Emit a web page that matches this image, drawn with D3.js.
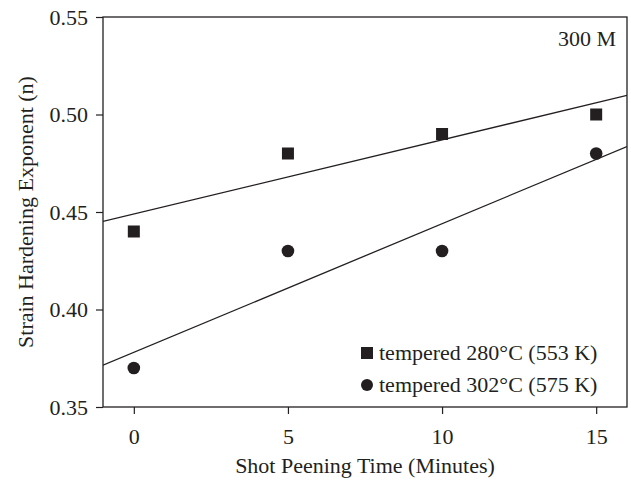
<!DOCTYPE html>
<html>
<head>
<meta charset="utf-8">
<script src="https://cdn.jsdelivr.net/npm/d3@7"></script>
<style>
  html, body { margin: 0; padding: 0; background: #fff; }
  svg { display: block; }
  svg text { font-family: "Liberation Serif", "Times New Roman", Times, serif !important; }
</style>
</head>
<body>
<svg id="chart" width="631" height="482"></svg>
<script>
// Shot peening time (minutes)
const times = [0, 5, 10, 15];
// Strain hardening exponent n for each temper condition
const tempered280 = [0.44, 0.48, 0.49, 0.50];
const tempered302 = [0.37, 0.43, 0.43, 0.48];
const seriesLabels = ["tempered 280\u00B0C (553 K)", "tempered 302\u00B0C (575 K)"];
const xTicks = [0, 5, 10, 15];
const yTicks = [0.35, 0.40, 0.45, 0.50, 0.55];

const svg = d3.select("#chart");
const margin = { left: 103, top: 17, right: 4, bottom: 75 };
const W = 631, H = 482;
const x = d3.scaleLinear().domain([-1, 16]).range([margin.left, W - margin.right]);
const y = d3.scaleLinear().domain([0.35, 0.55]).range([H - margin.bottom, margin.top]);
const ink = "#231f20";
const fs = 22;

// least-squares fit for a series
function fit(xs, ys) {
  const mx = d3.mean(xs), my = d3.mean(ys);
  let sxy = 0, sxx = 0;
  xs.forEach((v, i) => { sxy += (v - mx) * (ys[i] - my); sxx += (v - mx) * (v - mx); });
  const b = sxy / sxx;
  return { a: my - b * mx, b };
}

const plot = svg.append("g");
plot.append("defs").append("clipPath").attr("id", "clip")
  .append("rect").attr("x", x(-1)).attr("y", y(0.55))
  .attr("width", x(16) - x(-1)).attr("height", y(0.35) - y(0.55));

// fitted trend lines
[tempered280, tempered302].forEach(vals => {
  const f = fit(times, vals);
  const xs = x.domain();
  plot.append("line")
    .attr("clip-path", "url(#clip)")
    .attr("x1", x(xs[0])).attr("y1", y(f.a + f.b * xs[0]))
    .attr("x2", x(xs[1])).attr("y2", y(f.a + f.b * xs[1]))
    .attr("stroke", ink).attr("stroke-width", 1.3);
});

// markers
const sq = 12;
plot.selectAll("rect.p280").data(times).join("rect")
  .attr("class", "p280")
  .attr("x", (d) => x(d) - sq / 2)
  .attr("y", (d, i) => y(tempered280[i]) - sq / 2)
  .attr("width", sq).attr("height", sq).attr("fill", ink);
plot.selectAll("circle.p302").data(times).join("circle")
  .attr("class", "p302")
  .attr("cx", (d) => x(d))
  .attr("cy", (d, i) => y(tempered302[i]))
  .attr("r", 6.3).attr("fill", ink);

// axes
const xAxis = d3.axisBottom(x).tickValues(xTicks).tickSize(7).tickSizeOuter(0).tickFormat(d3.format("d"));
const yAxis = d3.axisLeft(y).tickValues(yTicks).tickSize(7).tickSizeOuter(0).tickFormat(d3.format(".2f"));
const gx = svg.append("g").attr("transform", `translate(0,${y(0.35)})`).call(xAxis);
const gy = svg.append("g").attr("transform", `translate(${x(-1)},0)`).call(yAxis);
[gx, gy].forEach(g => {
  g.attr("font-size", fs);
  g.select(".domain").remove();
  g.selectAll(".tick line").attr("stroke", ink).attr("stroke-width", 1.2);
  g.selectAll(".tick text").attr("fill", ink);
});
gx.selectAll(".tick text").attr("y", 37).attr("dy", 0);
gy.selectAll(".tick text").attr("x", -15).attr("dy", "0.34em");

// frame
svg.append("rect")
  .attr("x", x(-1)).attr("y", y(0.55))
  .attr("width", x(16) - x(-1)).attr("height", y(0.35) - y(0.55))
  .attr("fill", "none").attr("stroke", ink).attr("stroke-width", 1.3);

// titles
svg.append("text")
  .attr("x", (x(-1) + x(16)) / 2).attr("y", 473)
  .attr("text-anchor", "middle").attr("font-size", fs).attr("fill", ink)
  .text("Shot Peening Time (Minutes)");
svg.append("text")
  .attr("transform", `translate(33,${(y(0.35) + y(0.55)) / 2}) rotate(-90)`)
  .attr("text-anchor", "middle").attr("font-size", fs).attr("fill", ink)
  .text("Strain Hardening Exponent (n)");
svg.append("text")
  .attr("x", 616).attr("y", 46)
  .attr("text-anchor", "end").attr("font-size", fs).attr("fill", ink)
  .text("300 M");

// legend
const lg = svg.append("g");
lg.append("rect").attr("x", 361).attr("y", 347).attr("width", 12).attr("height", 12).attr("fill", ink);
lg.append("text").attr("x", 379).attr("y", 360).attr("font-size", fs).attr("fill", ink).text(seriesLabels[0]);
lg.append("circle").attr("cx", 367).attr("cy", 385).attr("r", 6).attr("fill", ink);
lg.append("text").attr("x", 379).attr("y", 392).attr("font-size", fs).attr("fill", ink).text(seriesLabels[1]);
</script>
</body>
</html>
